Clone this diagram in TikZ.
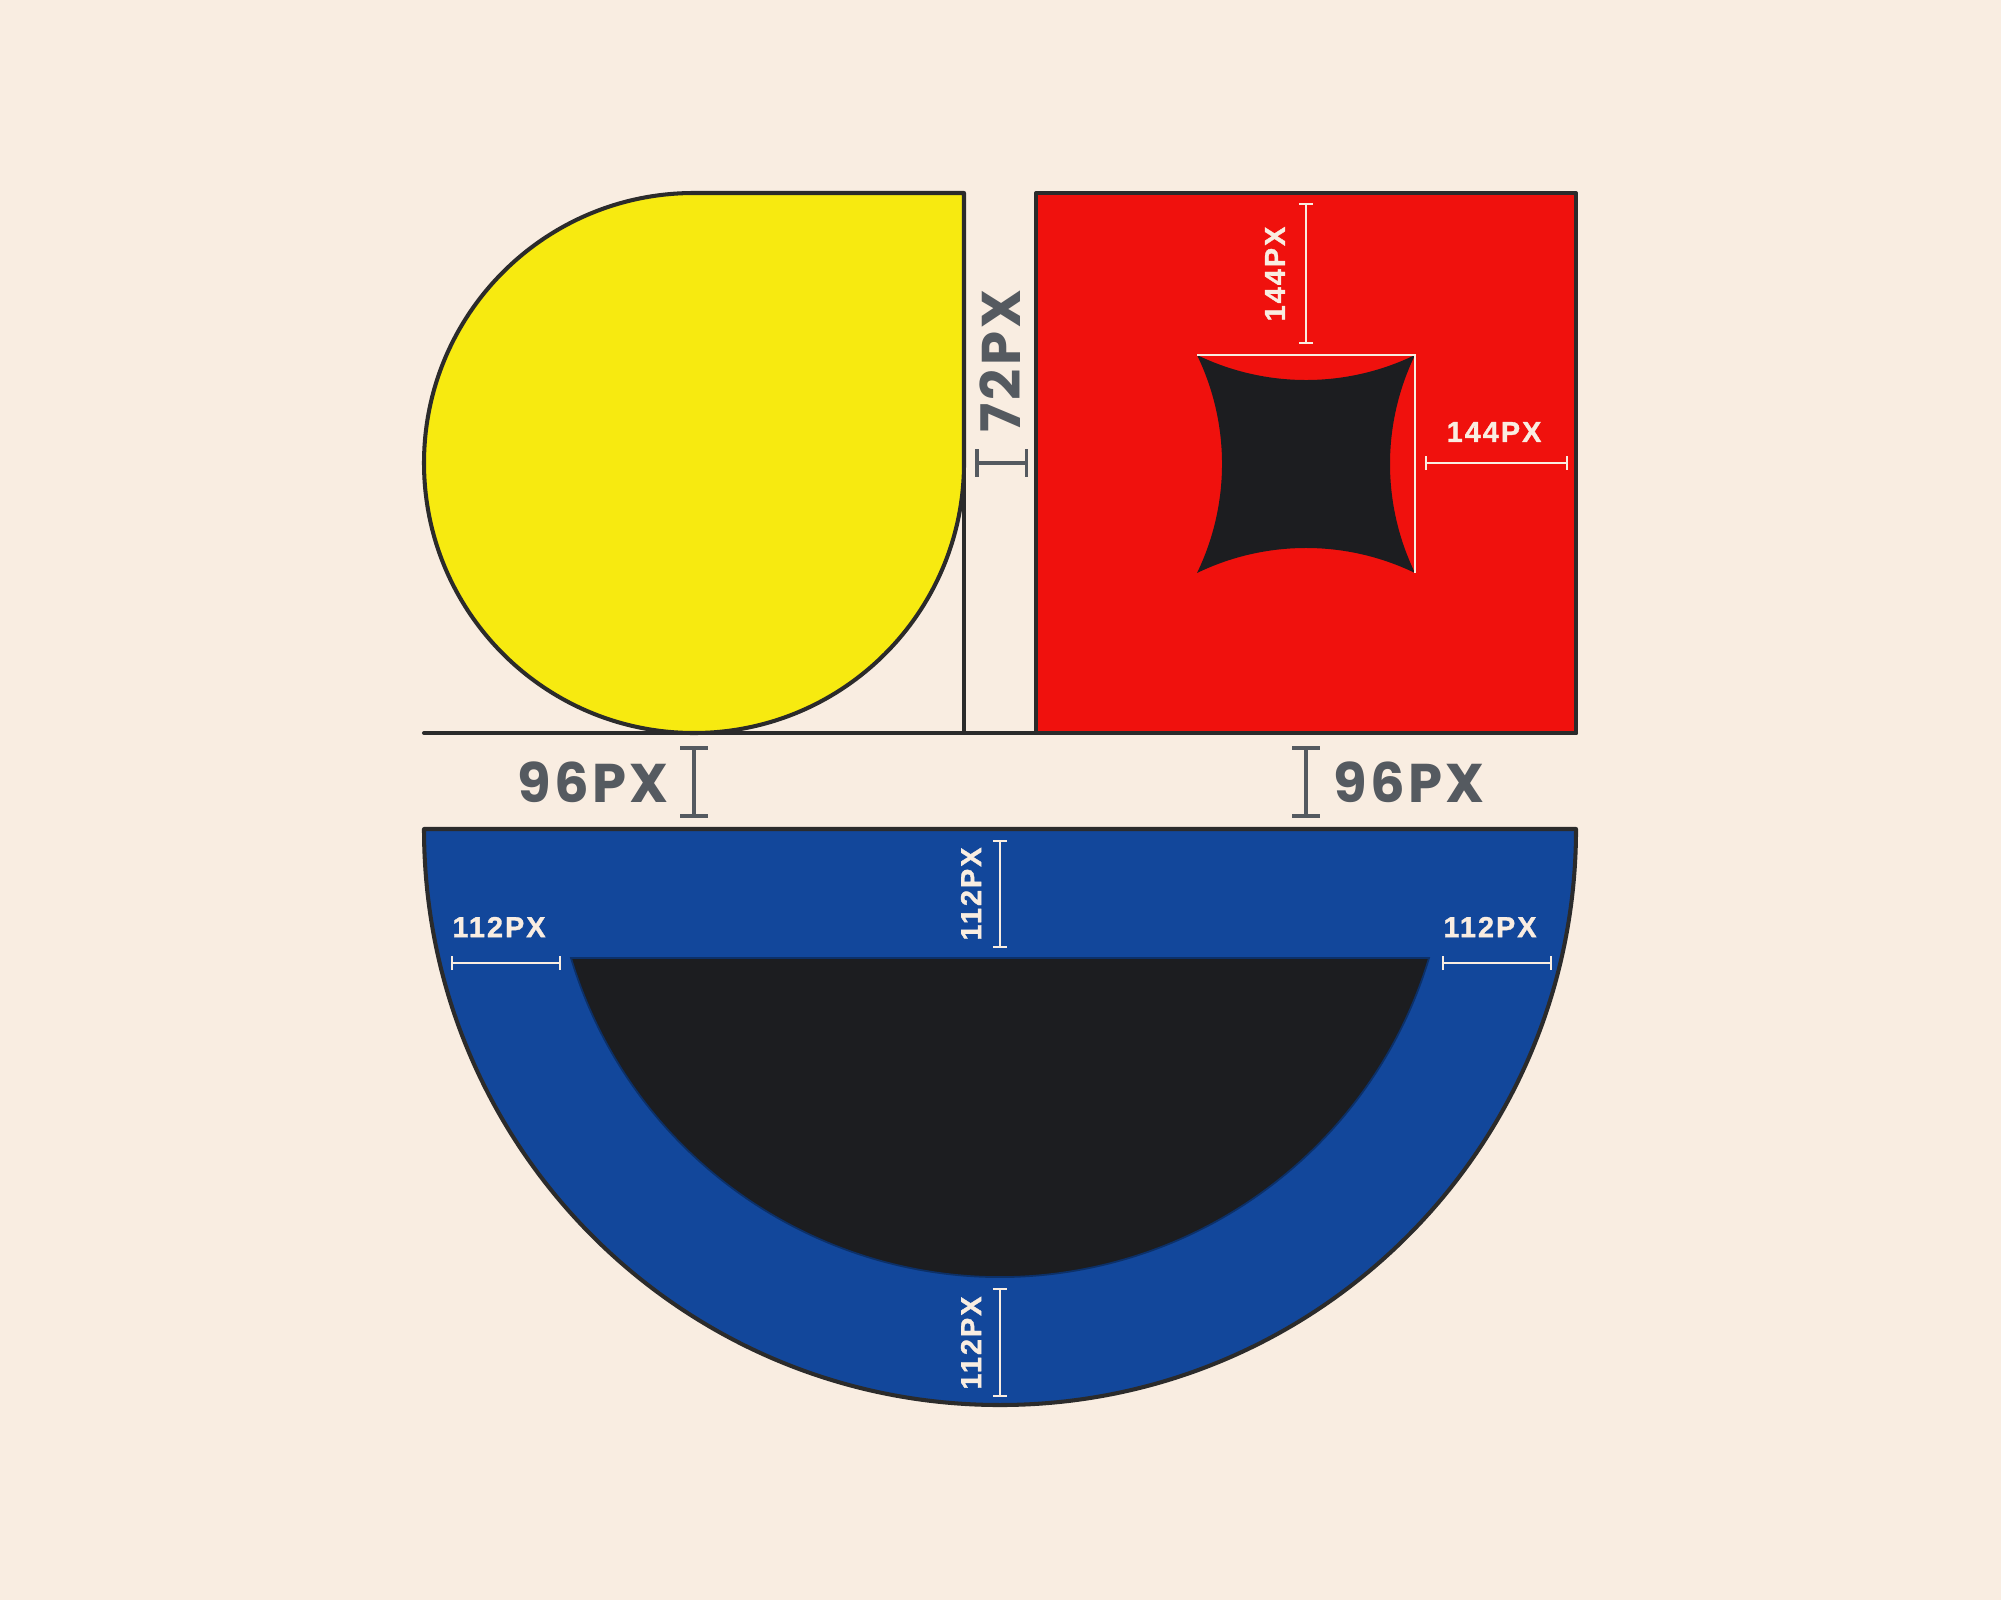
\documentclass[tikz,border=0pt]{standalone}
\usepackage{fontspec}
\usetikzlibrary{arrows.meta}

\newfontfamily\bigfont{Poppins}[LetterSpace=6]
\newfontfamily\smallfont{Liberation Sans}[LetterSpace=7,BoldFeatures={FakeBold=1.2}]

\definecolor{paper}{RGB}{249,237,225}
\definecolor{ink}{RGB}{43,43,43}
\definecolor{steel}{RGB}{85,90,96}
\definecolor{sun}{RGB}{247,234,16}
\definecolor{poppy}{RGB}{240,17,13}
\definecolor{navy}{RGB}{18,71,155}
\definecolor{coal}{RGB}{28,29,32}
\definecolor{deepnavy}{RGB}{12,48,104}

\begin{document}
\begin{tikzpicture}[x=0.01cm,y=-0.01cm,
    outline/.style={draw=ink,line width=1.15pt,line join=round},
    graydim/.style={draw=steel,line width=1pt,arrows={Bar[width=7.7pt]-Bar[width=7.7pt]}},
    whitedim/.style={draw=paper,line width=0.6pt,arrows={Bar[width=4pt]-Bar[width=4pt]}},
    biglabel/.style={text=steel,inner sep=0pt,font=\bigfont\bfseries\fontsize{15.5}{16}\selectfont},
    smalllabel/.style={text=paper,inner sep=0pt,font=\smallfont\bfseries\fontsize{8.2}{9}\selectfont}]

    \fill[paper] (0,0) rectangle (2001,1600);
    \useasboundingbox (0,0) rectangle (2001,1600);

    % yellow drop
    \filldraw[fill=sun,outline] (964,463) arc[start angle=0,end angle=270,radius=270] -- (964,193) -- cycle;
    % red square with star
    \filldraw[fill=poppy,outline] (1036,193) rectangle (1576,733);
    \fill[coal] (1197,355) arc[start angle=115.85,end angle=64.15,radius=250]
        arc[start angle=205.85,end angle=154.15,radius=250]
        arc[start angle=-64.15,end angle=-115.85,radius=250]
        arc[start angle=25.85,end angle=-25.85,radius=250] -- cycle;
    \draw[paper,line width=0.6pt] (1197,355) -- (1415,355) -- (1415,573);
    % base lines
    \draw[outline] (964,193) -- (964,733);
    \draw[outline,line cap=round] (424,733) -- (1576,733);
    % blue bowl
    \filldraw[fill=navy,outline] (424,829) arc[start angle=180,end angle=0,radius=576] -- cycle;
    \filldraw[fill=coal,draw=deepnavy,line width=0.5pt] (1000,829) ++(163.26:448)
        arc[start angle=163.26,end angle=16.74,radius=448] -- cycle;

    % gaps
    \coordinate (g1a) at (694,746);  \coordinate (g1b) at (694,818);
    \coordinate (g2a) at (1306,746); \coordinate (g2b) at (1306,818);
    \coordinate (g3a) at (975,463);  \coordinate (g3b) at (1028,463);
    \draw[graydim] (g1a) -- (g1b);
    \draw[graydim] (g2a) -- (g2b);
    \draw[graydim] (g3a) -- (g3b);
    \node[biglabel] (gapL) at (593,782) {96PX};
    \node[biglabel] (gapR) at (1409,782) {96PX};
    \node[biglabel,rotate=90] (gapM) at (1000,361) {72PX};

    % star
    \coordinate (s1a) at (1306,203); \coordinate (s1b) at (1306,344);
    \coordinate (s2a) at (1425,463); \coordinate (s2b) at (1568,463);
    \draw[whitedim] (s1a) -- (s1b);
    \draw[whitedim] (s2a) -- (s2b);
    \node[smalllabel,rotate=90] (starT) at (1275,274) {144PX};
    \node[smalllabel] (starR) at (1494,432) {144PX};

    % ring
    \coordinate (r1a) at (1000,840);  \coordinate (r1b) at (1000,948);
    \coordinate (r2a) at (1000,1288); \coordinate (r2b) at (1000,1397);
    \coordinate (r3a) at (451,963);   \coordinate (r3b) at (561,963);
    \coordinate (r4a) at (1442,963);  \coordinate (r4b) at (1552,963);
    \draw[whitedim] (r1a) -- (r1b);
    \draw[whitedim] (r2a) -- (r2b);
    \draw[whitedim] (r3a) -- (r3b);
    \draw[whitedim] (r4a) -- (r4b);
    \node[smalllabel,rotate=90] (ringT) at (971,894) {112PX};
    \node[smalllabel,rotate=90] (ringB) at (971,1343) {112PX};
    \node[smalllabel] (ringL) at (499,927) {112PX};
    \node[smalllabel] (ringR) at (1490,927) {112PX};
\end{tikzpicture}
\end{document}
